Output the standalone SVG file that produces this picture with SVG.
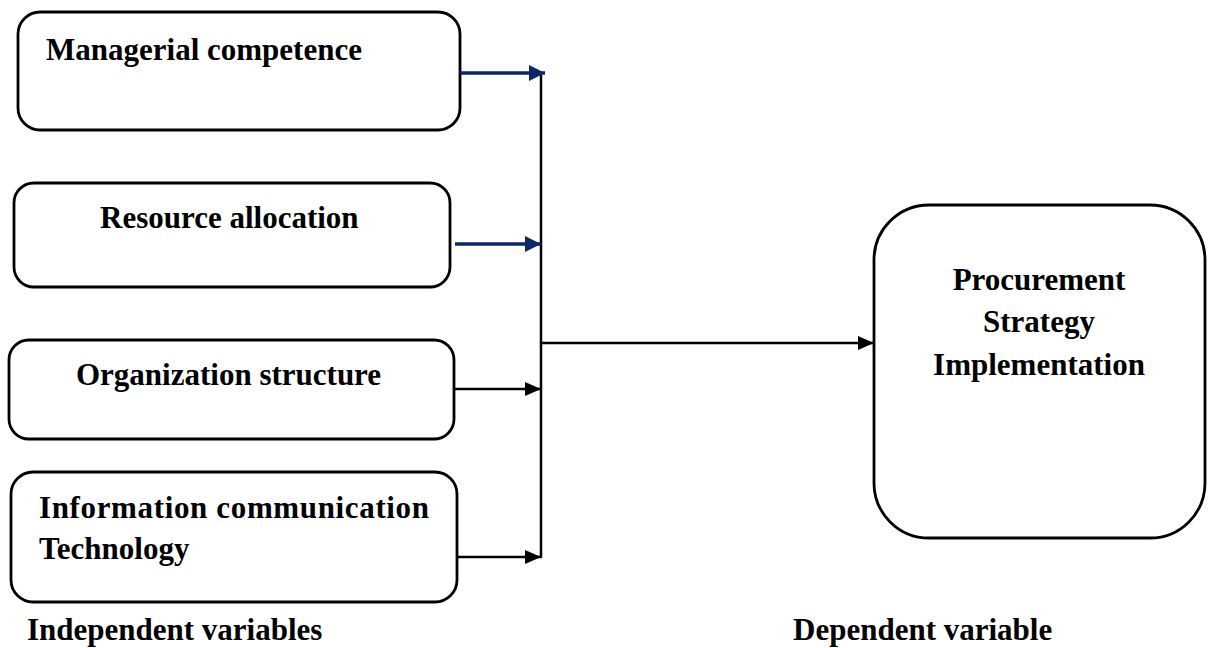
<svg xmlns="http://www.w3.org/2000/svg" width="1213" height="648" viewBox="0 0 1213 648">
<defs>
<style>
.box{fill:#fff;stroke:#000;stroke-width:2.8}
.t{font-family:"Liberation Serif","Times New Roman",serif;font-weight:bold;font-size:31px;fill:#000}
.c{stroke:#000;stroke-width:2.5;fill:none}
.n{stroke:#0c2768;stroke-width:3.5;fill:none}
</style>
<marker id="ab" markerUnits="userSpaceOnUse" markerWidth="16" markerHeight="16" viewBox="0 0 16 16" refX="16" refY="8" orient="auto"><path d="M0,1 L16,8 L0,15 Z" fill="#000"/></marker>
<marker id="an" markerUnits="userSpaceOnUse" markerWidth="16" markerHeight="16" viewBox="0 0 16 16" refX="16" refY="8" orient="auto"><path d="M0,0 L16,8 L0,16 Z" fill="#0c2768"/></marker>
</defs>
<rect width="1213" height="648" fill="#fff"/>
<g id="managerial">
<rect class="box" x="18" y="12" width="442" height="118" rx="22"/>
<text class="t" x="46" y="60">Managerial competence</text>
</g>
<g id="resource">
<rect class="box" x="14" y="183" width="436" height="104" rx="20"/>
<text class="t" x="100" y="228">Resource allocation</text>
</g>
<g id="organization">
<rect class="box" x="9" y="340" width="445" height="99" rx="20"/>
<text class="t" x="76" y="385">Organization structure</text>
</g>
<g id="ict">
<rect class="box" x="11" y="472" width="446" height="130" rx="22"/>
<text class="t" x="39" y="518" textLength="390" lengthAdjust="spacing">Information communication</text>
<text class="t" x="39" y="559">Technology</text>
</g>
<g id="procurement">
<rect class="box" x="874" y="205" width="331" height="333" rx="55"/>
<text class="t" x="1039" y="290" text-anchor="middle">Procurement</text>
<text class="t" x="1039" y="332" text-anchor="middle">Strategy</text>
<text class="t" x="1039" y="375" text-anchor="middle">Implementation</text>
</g>
<g id="labels">
<text class="t" x="27" y="640">Independent variables</text>
<text class="t" x="793" y="640">Dependent variable</text>
</g>
<g id="connectors">
<line class="c" x1="541" y1="75" x2="541" y2="558"/>
<line class="n" x1="460" y1="73" x2="545" y2="73" marker-end="url(#an)"/>
<line class="n" x1="455" y1="244" x2="541" y2="244" marker-end="url(#an)"/>
<line class="c" x1="454" y1="389" x2="541" y2="389" marker-end="url(#ab)"/>
<line class="c" x1="457" y1="557" x2="541" y2="557" marker-end="url(#ab)"/>
<line class="c" x1="541" y1="343" x2="874" y2="343" marker-end="url(#ab)"/>
</g>
</svg>
